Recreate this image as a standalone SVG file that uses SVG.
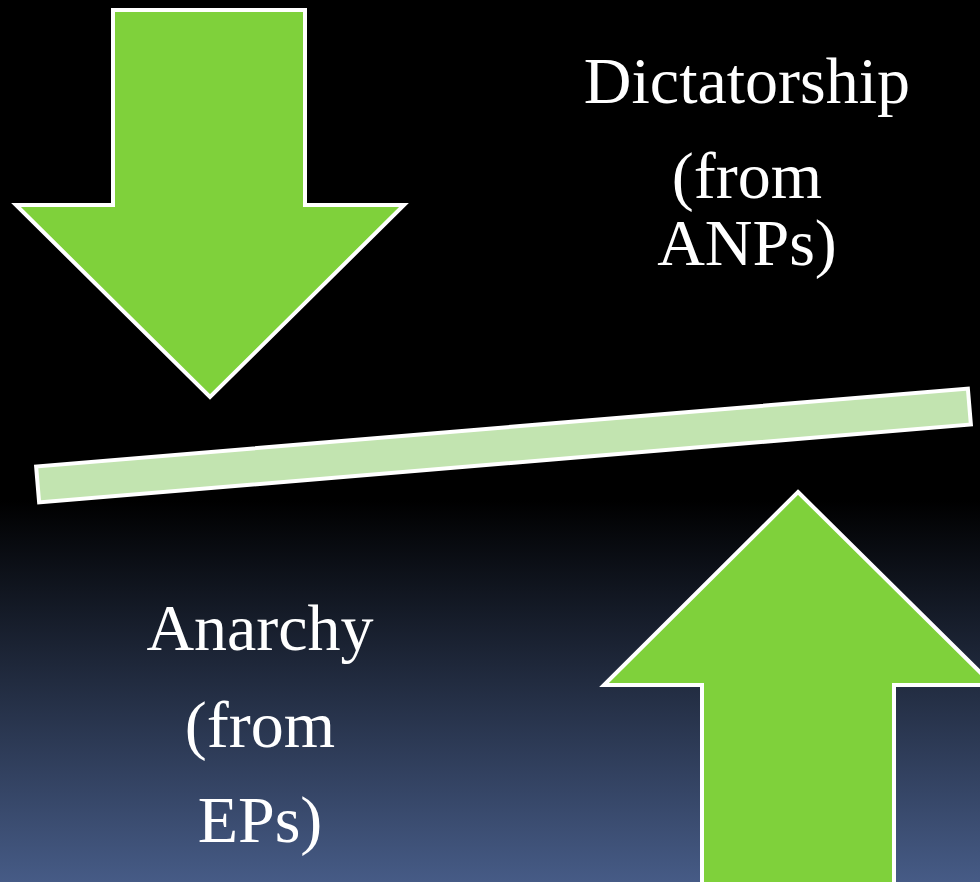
<svg xmlns="http://www.w3.org/2000/svg" width="980" height="882" viewBox="0 0 980 882">
  <defs>
    <linearGradient id="bg" gradientUnits="userSpaceOnUse" x1="0" y1="500" x2="0" y2="882">
      <stop offset="0" stop-color="#000000"/>
      <stop offset="1" stop-color="#465b86"/>
    </linearGradient>
  </defs>
  <style>
    .arrow { fill: #7fd13b; stroke: #ffffff; stroke-width: 4; stroke-linejoin: miter; }
    .beam { fill: #c2e4b0; stroke: #ffffff; stroke-width: 4; }
    .label { font-family: "Liberation Serif", "Times New Roman", serif; font-size: 66px; fill: #ffffff; text-anchor: middle; }
  </style>

  <!-- background -->
  <rect x="0" y="0" width="980" height="882" fill="url(#bg)"/>

  <!-- downward pressure arrow -->
  <g id="arrow-down">
    <polygon class="arrow" points="113,10 305,10 305,205 404,205 210,397 16,205 113,205"/>
  </g>

  <!-- upward pressure arrow -->
  <g id="arrow-up">
    <polygon class="arrow" points="798,492 993,685 894,685 894,884 702,884 702,685 604,685"/>
  </g>

  <!-- tilted balance beam -->
  <g id="beam">
    <rect class="beam" x="-467.5" y="-18" width="935" height="36" transform="translate(503.5 445.5) rotate(-4.78)"/>
  </g>

  <!-- labels -->
  <g id="label-dictatorship">
    <text class="label" x="747" y="103">Dictatorship</text>
    <text class="label" x="747" y="198">(from</text>
    <text class="label" x="747" y="265">ANPs)</text>
  </g>
  <g id="label-anarchy">
    <text class="label" x="260" y="650">Anarchy</text>
    <text class="label" x="260" y="747">(from</text>
    <text class="label" x="260" y="842">EPs)</text>
  </g>
</svg>
